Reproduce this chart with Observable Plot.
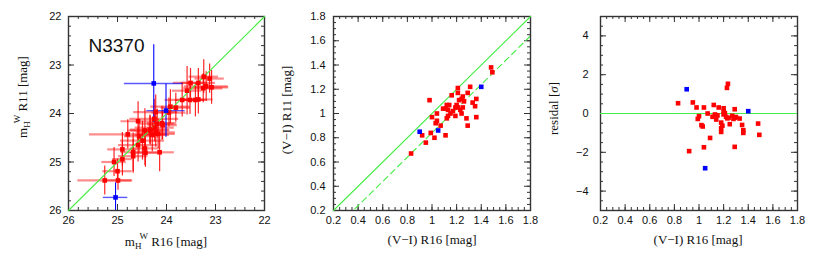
<!DOCTYPE html>
<html><head><meta charset="utf-8">
<script src="https://cdn.jsdelivr.net/npm/d3@7"></script>
<script src="https://cdn.jsdelivr.net/npm/@observablehq/plot@0.6"></script>
<style>
body{margin:0;background:#fff;}
#wrap{position:relative;width:817px;height:261px;overflow:hidden;background:#fff;}
#wrap > svg{position:absolute;top:0;}
</style></head><body><div id="wrap"></div>
<script>
// ---------- Panel 1: m_H^W R16 vs R11 ----------
const p1RedX = [25.26,25.00,24.99,25.07,24.90,24.90,24.79,24.68,24.68,24.58,24.58,24.49,24.44,24.43,24.34,24.29,24.25,24.24,24.22,24.22,24.19,24.14,24.09,24.08,23.95,23.92,23.81,23.68,23.58,23.51,23.52,23.41,23.35,23.35,23.24,23.25,23.19,23.12,23.08,24.56,24.33,24.17,24.44];
const p1RedY = [25.38,25.19,25.38,25.00,24.94,24.74,24.43,24.88,24.80,24.16,24.65,24.56,24.35,24.81,24.33,24.44,24.11,24.29,23.97,24.39,24.21,24.80,24.20,24.24,23.98,23.86,23.88,23.72,23.53,23.37,23.72,23.72,23.71,23.37,23.24,23.48,23.44,23.28,23.46,24.47,24.35,24.42,24.72];
const p1RedXErr = [0.55,0.30,0.30,0.25,0.20,0.30,0.78,0.30,0.25,0.35,0.40,0.45,0.35,0.30,0.40,0.35,0.50,0.40,0.45,0.40,0.35,0.30,0.30,0.30,0.35,0.40,0.30,0.35,0.30,0.35,0.30,0.25,0.30,0.35,0.30,0.40,0.45,0.30,0.35,0.30,0.40,0.35,0.30];
const p1RedYErr = [0.30,0.25,0.20,0.30,0.35,0.35,0.30,0.35,0.40,0.40,0.35,0.40,0.45,0.30,0.30,0.35,0.40,0.30,0.35,0.30,0.30,0.40,0.35,0.30,0.30,0.35,0.30,0.35,0.50,0.30,0.30,0.35,0.30,0.30,0.35,0.30,0.30,0.30,0.35,0.35,0.30,0.30,0.35];
const p1BlueX = [24.26,24.01,25.04];
const p1BlueY = [23.38,23.94,25.73];
const p1BlueXErr = [0.60,0.39,0.25];
const p1BlueYErr = [0.80,0.55,0.30];
const p1Domain = [26,22];
const p1Ticks = [26,25,24,23,22];

// ---------- Panel 2: (V-I) R16 vs R11 ----------
const p2RedX = [0.83,0.92,0.95,0.98,0.99,1.00,1.02,1.03,1.04,1.04,1.07,1.09,1.11,1.11,1.12,1.12,1.13,1.13,1.15,1.14,1.16,1.17,1.19,1.19,1.20,1.21,1.21,1.21,1.22,1.23,1.24,1.24,1.25,1.25,1.26,1.28,1.29,1.29,1.31,1.33,1.35,1.36,1.36,1.48,1.49];
const p2RedY = [0.67,0.82,0.76,1.11,0.84,0.97,0.80,0.92,1.00,0.94,0.90,1.04,1.04,0.82,1.07,0.96,1.03,0.98,1.00,1.07,1.15,1.02,0.98,1.05,1.07,1.21,1.17,1.05,1.11,1.03,1.00,1.12,1.05,1.14,1.10,0.96,1.17,0.90,1.22,1.09,1.06,1.12,0.97,1.38,1.34];
const p2BlueX = [0.90,1.05,1.40];
const p2BlueY = [0.85,0.86,1.22];
const p2Domain = [0.2,1.8];
const p2Offset = -0.16;   // dashed line: mean colour offset
const colorTicks = [0.2,0.4,0.6,0.8,1,1.2,1.4,1.6,1.8];

// ---------- Panel 3: residual vs (V-I) R16 ----------
const p3RedX = [0.83,0.95,0.98,1.04,0.92,1.00,0.99,1.02,1.03,1.04,1.09,1.07,1.12,1.16,1.11,1.13,1.14,1.13,1.15,1.235,1.227,1.20,1.20,1.29,1.18,1.19,1.18,1.18,1.25,1.28,1.29,1.29,1.33,1.35,1.36,1.36,1.48,1.49,1.22,1.24,1.27,1.21,1.30,1.23,1.20];
const p3RedY = [0.53,0.57,0.31,0.31,-1.94,-0.14,-0.28,-0.60,-0.67,-1.74,-1.26,0.00,0.44,0.31,-0.17,-0.09,-0.31,-0.05,-0.10,1.53,1.32,0.27,0.10,0.22,-0.47,-0.63,-0.76,-0.95,-0.55,-0.28,-1.72,-0.22,-0.26,-0.59,-0.86,-1.00,-0.52,-1.10,-0.17,-0.22,-0.12,0.02,-0.18,-0.25,-0.05];
const p3BlueX = [0.90,1.40,1.05];
const p3BlueY = [1.25,0.12,-2.82];
const p3YDomain = [-5,5];
const residTicks = [-4,-2,0,2,4];

const GREEN = "#44ee44";
const H = 261, MT = 16, MB = 51;
const FH = H - MT - MB;
const fmt = d => d < 0 ? "\u2212" + (-d) : String(d);

function frameTicks(xMajor, xMinor, yMajor, yMinor, fw) {
  const M = 6, m = 3, sw = 1, st = "#333";
  return [
    Plot.ruleX(xMajor, {x: d => d, insetTop: FH - M, stroke: st, strokeWidth: sw}),
    Plot.ruleX(xMajor, {x: d => d, insetBottom: FH - M, stroke: st, strokeWidth: sw}),
    Plot.ruleX(xMinor, {x: d => d, insetTop: FH - m, stroke: st, strokeWidth: sw}),
    Plot.ruleX(xMinor, {x: d => d, insetBottom: FH - m, stroke: st, strokeWidth: sw}),
    Plot.ruleY(yMajor, {y: d => d, insetRight: fw - M, stroke: st, strokeWidth: sw}),
    Plot.ruleY(yMajor, {y: d => d, insetLeft: fw - M, stroke: st, strokeWidth: sw}),
    Plot.ruleY(yMinor, {y: d => d, insetRight: fw - m, stroke: st, strokeWidth: sw}),
    Plot.ruleY(yMinor, {y: d => d, insetLeft: fw - m, stroke: st, strokeWidth: sw}),
    Plot.frame({stroke: "#333", strokeWidth: 1.4})
  ];
}

function makePlot({width, mL, mR, x, y, marks, pad}) {
  return Plot.plot({
    width, height: H,
    marginLeft: mL, marginRight: mR, marginTop: MT, marginBottom: MB,
    style: {fontFamily: "'Liberation Sans', Arial, sans-serif", fontSize: "11px", color: "#111", background: "transparent"},
    x: {...x, tickSize: 0, tickPadding: 6, label: null, tickFormat: fmt},
    y: {...y, tickSize: 0, tickPadding: pad, label: null, tickFormat: fmt},
    marks
  });
}

function addLabel(svg, {x, y, rotate = 0, parts}) {
  const t = d3.select(svg).append("text")
    .attr("transform", `translate(${x},${y}) rotate(${rotate})`)
    .attr("text-anchor", "middle")
    .attr("font-family", "'Liberation Serif', 'Times New Roman', serif")
    .attr("font-size", 13).attr("fill", "#111");
  for (const p of parts) {
    const s = t.append("tspan").text(p.t);
    if (p.size) s.attr("font-size", p.size);
    if (p.dx) s.attr("dx", p.dx);
    if (p.dy) s.attr("dy", p.dy);
    if (p.italic) s.attr("font-style", "italic");
  }
}

const wrap = document.getElementById("wrap");

// Panel 1
const p1Red = p1RedX.map((v, i) => ({x: v, y: p1RedY[i], xe: p1RedXErr[i], ye: p1RedYErr[i]}));
const p1Blue = p1BlueX.map((v, i) => ({x: v, y: p1BlueY[i], xe: p1BlueXErr[i], ye: p1BlueYErr[i]}));
const w1 = 272, fw1 = w1 - 68 - 8;
const plot1 = makePlot({
  width: w1, mL: 68, mR: 8, pad: 7,
  x: {domain: p1Domain, ticks: p1Ticks},
  y: {domain: p1Domain, ticks: p1Ticks},
  marks: [
    ...frameTicks(p1Ticks, d3.range(22, 26.001, 0.2), p1Ticks, d3.range(22, 26.001, 0.2), fw1),
    Plot.ruleY(p1Red, {y: "y", x1: d => d.x - d.xe, x2: d => d.x + d.xe, stroke: "red", strokeOpacity: 0.45, strokeWidth: 2.2, clip: true}),
    Plot.ruleX(p1Red, {x: "x", y1: d => d.y - d.ye, y2: d => d.y + d.ye, stroke: "red", strokeOpacity: 0.85, strokeWidth: 1.2, clip: true}),
    Plot.ruleY(p1Blue, {y: "y", x1: d => d.x - d.xe, x2: d => d.x + d.xe, stroke: "blue", strokeOpacity: 0.65, strokeWidth: 1.4, clip: true}),
    Plot.ruleX(p1Blue, {x: "x", y1: d => d.y - d.ye, y2: d => d.y + d.ye, stroke: "blue", strokeWidth: 1.1, clip: true}),
    Plot.line(p1Domain, {x: d => d, y: d => d, stroke: GREEN, strokeWidth: 1.1}),
    Plot.dot(p1Red, {x: "x", y: "y", symbol: "square", r: 2.6, fill: "red"}),
    Plot.dot(p1Blue, {x: "x", y: "y", symbol: "square", r: 2.6, fill: "blue"}),
    Plot.text(["N3370"], {frameAnchor: "top-left", dx: 20, dy: 22, text: d => d, fontSize: 19, fontFamily: "'Liberation Sans', Arial, sans-serif", textAnchor: "start", fill: "#111"})
  ]
});
plot1.style.left = "0px";
wrap.appendChild(plot1);
addLabel(plot1, {x: 166, y: 245.5, parts: [
  {t: "m"}, {t: "H", size: 9, dy: 3}, {t: "W", size: 9, dx: -2, dy: -10}, {t: " R16 [mag]", dy: 7}
]});
addLabel(plot1, {x: 27, y: 97, rotate: -90, parts: [
  {t: "m"}, {t: "H", size: 9, dy: 3}, {t: "W", size: 9, dx: -2, dy: -10}, {t: " R11 [mag]", dy: 7}
]});

// Panel 2
const p2Red = p2RedX.map((v, i) => ({x: v, y: p2RedY[i]}));
const p2Blue = p2BlueX.map((v, i) => ({x: v, y: p2BlueY[i]}));
const w2 = 272, fw2 = w2 - 61 - 14;
const plot2 = makePlot({
  width: w2, mL: 61, mR: 14, pad: 8,
  x: {domain: p2Domain, ticks: colorTicks},
  y: {domain: p2Domain, ticks: colorTicks},
  marks: [
    ...frameTicks(colorTicks, d3.range(0.2, 1.8001, 0.05), colorTicks, d3.range(0.2, 1.8001, 0.05), fw2),
    Plot.line(p2Domain, {x: d => d, y: d => d, stroke: GREEN, strokeWidth: 1.1}),
    Plot.line(p2Domain, {x: d => d, y: d => d + p2Offset, stroke: GREEN, strokeWidth: 1.1, strokeDasharray: "6,4", clip: true}),
    Plot.dot(p2Red, {x: "x", y: "y", symbol: "square", r: 2.6, fill: "red"}),
    Plot.dot(p2Blue, {x: "x", y: "y", symbol: "square", r: 2.6, fill: "blue"})
  ]
});
plot2.style.left = "272px";
wrap.appendChild(plot2);
addLabel(plot2, {x: 160, y: 243.5, parts: [{t: "(V\u2212I) R16 [mag]"}]});
addLabel(plot2, {x: 19, y: 110, rotate: -90, parts: [{t: "(V\u2212I) R11 [mag]"}]});

// Panel 3
const p3Red = p3RedX.map((v, i) => ({x: v, y: p3RedY[i]}));
const p3Blue = p3BlueX.map((v, i) => ({x: v, y: p3BlueY[i]}));
const w3 = 273, fw3 = w3 - 56 - 20;
const plot3 = makePlot({
  width: w3, mL: 56, mR: 20, pad: 12,
  x: {domain: p2Domain, ticks: colorTicks},
  y: {domain: p3YDomain, ticks: residTicks},
  marks: [
    ...frameTicks(colorTicks, d3.range(0.2, 1.8001, 0.05), residTicks, d3.range(-5, 5.001, 0.5), fw3),
    Plot.ruleY([0], {stroke: GREEN, strokeWidth: 1.1}),
    Plot.dot(p3Red, {x: "x", y: "y", symbol: "square", r: 2.6, fill: "red"}),
    Plot.dot(p3Blue, {x: "x", y: "y", symbol: "square", r: 2.6, fill: "blue"})
  ]
});
plot3.style.left = "544px";
wrap.appendChild(plot3);
addLabel(plot3, {x: 154, y: 243.5, parts: [{t: "(V\u2212I) R16 [mag]"}]});
addLabel(plot3, {x: 14, y: 108.5, rotate: -90, parts: [{t: "residal ["}, {t: "\u03C3", italic: true}, {t: "]"}]});
</script>
</body></html>
